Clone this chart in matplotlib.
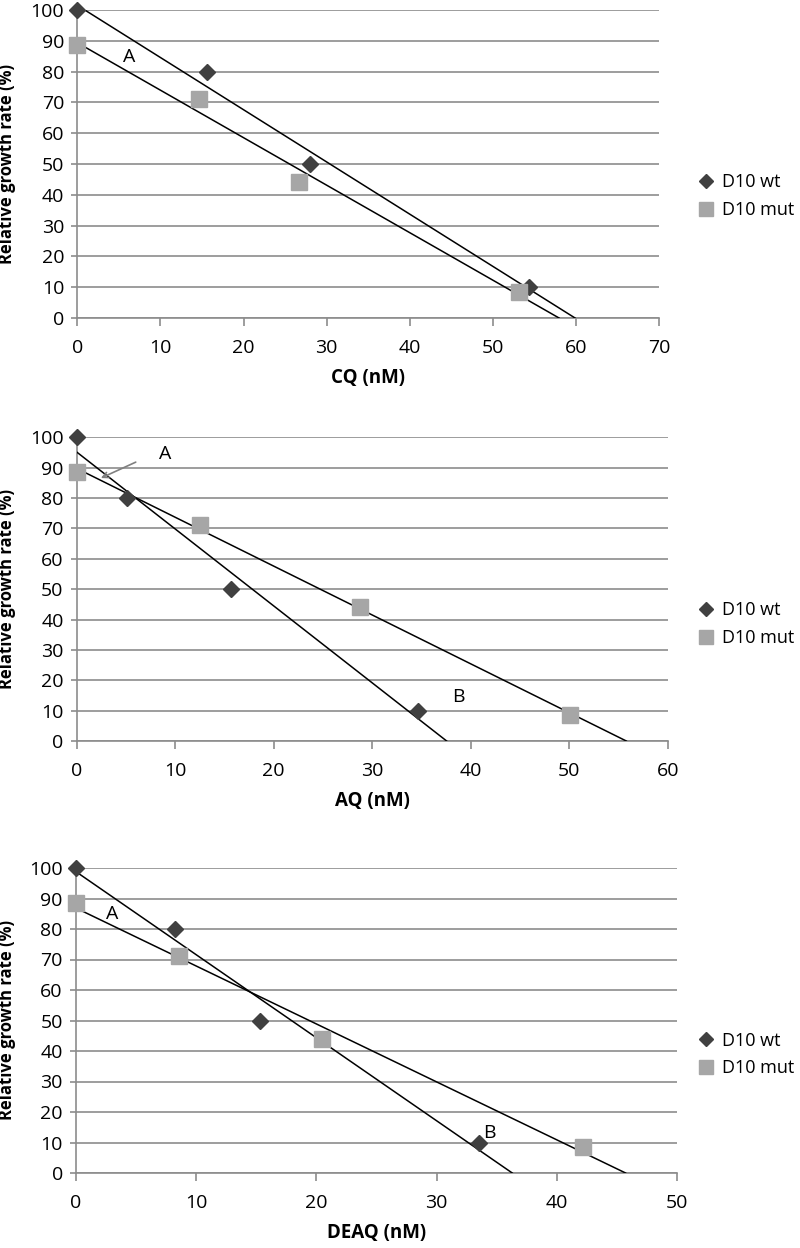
import numpy as np
import matplotlib.pyplot as plt

plt.rcParams['font.family'] = ['Open Sans', 'DejaVu Sans']

# Relative growth rate (%) - same levels for every drug
wt_y = [100, 80, 50, 10]
mut_y = [88.5, 71, 44, 8.5]

# Drug concentrations (nM)
cq_wt_x = [0, 15.6, 28.0, 54.4]
cq_mut_x = [0, 14.6, 26.7, 53.1]
aq_wt_x = [0, 5.1, 15.7, 34.7]
aq_mut_x = [0, 12.5, 28.8, 50.1]
deaq_wt_x = [0, 8.2, 15.3, 33.5]
deaq_mut_x = [0, 8.6, 20.5, 42.2]

drug_names = ["CQ (nM)", "AQ (nM)", "DEAQ (nM)"]
x_max = [70, 60, 50]
series_names = ["D10 wt", "D10 mut"]

W, H = 800, 1248
fig = plt.figure(figsize=(W / 100, H / 100), dpi=100)

# panel boxes in pixels: left, right, top, bottom
boxes = [(77.3, 659, 10, 318), (76.7, 667.7, 437.3, 741), (76, 677, 868, 1173)]
legend_y = [196, 624, 1054.5]

wt_col = '#404040'
mut_col = '#a6a6a6'
grid_col = '#8c8c8c'

panels = [(cq_wt_x, cq_mut_x), (aq_wt_x, aq_mut_x), (deaq_wt_x, deaq_mut_x)]
axes = []
for i, (wx, mx) in enumerate(panels):
    l, r, t, b = boxes[i]
    ax = fig.add_axes([l / W, 1 - b / H, (r - l) / W, (b - t) / H])
    axes.append(ax)

    # trend lines (linear fit, drawn down to the x axis)
    for xs, ys in ((wx, wt_y), (mx, mut_y)):
        m, c = np.polyfit(xs, ys, 1)
        x_end = -c / m
        ax.plot([0, x_end], [c, 0], color='black', lw=1.1, zorder=3)

    ax.plot(wx, wt_y, 'D', color=wt_col, ms=8, ls='none', label=series_names[0],
            zorder=4, clip_on=False)
    ax.plot(mx, mut_y, 's', color=mut_col, ms=11, ls='none', label=series_names[1],
            zorder=4, clip_on=False)

    ax.set_xlim(0, x_max[i])
    ax.set_ylim(0, 100)
    ax.set_xticks(np.arange(0, x_max[i] + 1, 10))
    ax.set_yticks(np.arange(0, 101, 10))
    ax.yaxis.grid(True, color=grid_col, lw=1.2)
    ax.set_axisbelow(True)
    for s in ['top', 'right']:
        ax.spines[s].set_visible(False)
    for s in ['left', 'bottom']:
        ax.spines[s].set_color(grid_col)
        ax.spines[s].set_linewidth(1.2)
    ax.tick_params(axis='x', direction='out', length=6, width=1.2, color=grid_col,
                   labelsize=14, pad=9)
    ax.tick_params(axis='y', direction='out', length=4.5, width=1.2, color=grid_col,
                   labelsize=14, pad=5)

    ax.set_xlabel(drug_names[i], fontsize=13.5, fontweight='bold')
    ax.xaxis.set_label_coords(0.5, -50 / (b - t))
    ax.set_ylabel("Relative growth rate (%)", fontsize=12, fontweight='bold')
    ax.yaxis.set_label_coords((16 - l) / (r - l), 0.5)

    ax.legend(loc='center left', bbox_to_anchor=(697 / W, 1 - legend_y[i] / H),
              bbox_transform=fig.transFigure, frameon=False, fontsize=13,
              handlelength=1.0, handletextpad=0.4, borderpad=0, borderaxespad=0,
              labelspacing=0.55, numpoints=1, markerscale=0.9)

# labels A / B on the plots
axes[0].text(6.2, 84.7, "A", fontsize=14, ha='center', va='center')
axes[1].text(9.0, 94.6, "A", fontsize=14, ha='center', va='center')
axes[1].annotate("", xy=(2.2, 86.2), xytext=(6.25, 92.2),
                 arrowprops=dict(arrowstyle='->', color='#808080', lw=1.2))
axes[1].text(38.7, 14.5, "B", fontsize=14, ha='center', va='center')
axes[2].text(2.97, 84.8, "A", fontsize=14, ha='center', va='center')
axes[2].text(34.4, 13.0, "B", fontsize=14, ha='center', va='center')

plt.savefig("out.png", dpi=100)
